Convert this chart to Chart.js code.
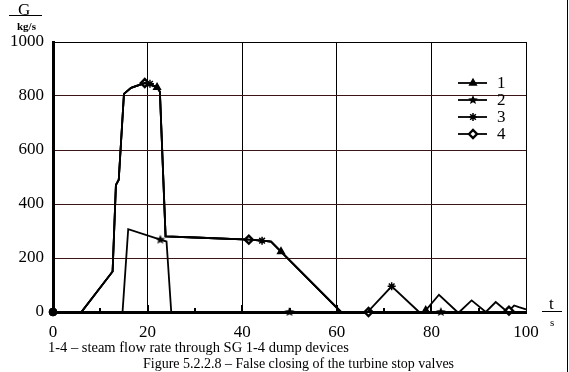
<!DOCTYPE html>
<html>
<head>
<meta charset="utf-8">
<script src="https://cdn.jsdelivr.net/npm/chart.js@4.4.1/dist/chart.umd.min.js"></script>
<style>
  html, body { margin: 0; padding: 0; background: #fff; }
  #wrap { position: relative; width: 569px; height: 372px; font-family: "Liberation Serif", "DejaVu Serif", serif; color: #000; }
  #wrap canvas { position: absolute; left: 0; top: 0; }
  .txt { position: absolute; white-space: nowrap; line-height: 1; }
  .rule { position: absolute; height: 1px; background: #000; }
  #edge { position: absolute; left: 567px; top: 0; width: 1px; height: 372px; background: #000; }
</style>
</head>
<body>
<div id="wrap">
  <canvas id="c" width="569" height="372"></canvas>
  <div class="txt" style="left:18px;top:1px;font-size:17px;">G</div>
  <div class="rule" style="left:9px;top:15px;width:33px;"></div>
  <div class="txt" style="left:17px;top:21px;font-size:11px;font-weight:bold;">kg/s</div>
  <div class="txt" style="left:549px;top:295px;font-size:17px;">t</div>
  <div class="rule" style="left:542px;top:311px;width:20px;"></div>
  <div class="txt" style="left:550px;top:317px;font-size:11px;">s</div>
  <div class="txt" style="left:48px;top:340px;font-size:14.5px;">1-4 – steam flow rate through SG 1-4 dump devices</div>
  <div class="txt" style="left:143px;top:357px;font-size:14px;">Figure 5.2.2.8 – False closing of the turbine stop valves</div>
  <div id="edge"></div>
</div>
<script>
// shared part of curves 1, 3, 4 (t in s, G in kg/s)
const mainT = [0, 6, 12.6, 13.3, 13.9, 15.0, 16.5, 19.4, 20.5, 22.0, 22.6, 23.8, 30, 41.4, 44.2, 46.1, 48.2, 60.9];
const mainG = [0, 0, 150, 470, 490, 808, 830, 848, 845, 832, 816, 280, 276, 268, 264, 261, 224, 0];

const tail1T = [78.5, 78.8, 81.6, 85.5, 85.9, 88.5, 91.5, 93.6, 96.1, 100];
const tail1G = [0, 6, 64, 0, 0, 43, 0, 37, 0, 0];
const tail3T = [66.5, 71.6, 77.4, 100];
const tail3G = [0, 95, 0, 0];
const tail4T = [66.7, 96.1, 96.4, 97.5, 98.5, 100];
const tail4G = [0, 0, 5, 24, 18, 10];

const s2T = [0, 14.7, 15.9, 22.7, 24.0, 25.0, 50, 82, 100];
const s2G = [0, 0, 307, 268, 261, 0, 0, 0, 0];

// times where each curve carries a marker
const marks1 = [22.0, 48.2, 78.8];
const marks2 = [22.7, 50, 82];
const marks3 = [20.5, 44.2, 71.6];
const marks4 = [19.4, 41.4, 66.7, 96.4];

const labels = ['1', '2', '3', '4'];
const xTicks = [0, 20, 40, 60, 80, 100];
const yTicks = [0, 200, 400, 600, 800, 1000];

const pts = (t, g) => t.map((v, i) => ({ x: v, y: g[i] }));

function starImage(r) {
  const c = document.createElement('canvas');
  c.width = c.height = r * 2 + 2;
  const g = c.getContext('2d');
  g.translate(r + 1, r + 1);
  g.beginPath();
  for (let i = 0; i < 10; i++) {
    const a = -Math.PI / 2 + i * Math.PI / 5;
    const rr = i % 2 ? r * 0.45 : r;
    g.lineTo(Math.cos(a) * rr, Math.sin(a) * rr);
  }
  g.closePath();
  g.fillStyle = '#000';
  g.fill();
  return c;
}
const star5 = starImage(5);

function series(label, data, marks, style, fill, bw) {
  return {
    label,
    data,
    borderColor: '#000',
    borderWidth: 1.8,
    tension: 0,
    clip: false,
    pointStyle: style,
    pointBackgroundColor: fill,
    pointBorderColor: '#000',
    pointBorderWidth: bw,
    pointRadius: c => marks.includes(c.raw.x) ? 4 : 0,
    pointHoverRadius: 0,
  };
}

const datasets = [
  // origin dot, drawn on top
  { label: '', data: [{ x: 0, y: 0 }], pointStyle: 'circle', pointRadius: 4, pointBackgroundColor: '#000', pointBorderColor: '#000', showLine: false, clip: false },
  series(labels[0], pts(mainT.concat(tail1T), mainG.concat(tail1G)), marks1, 'triangle', '#000', 1.3),
  series(labels[1], pts(s2T, s2G), marks2, star5, '#000', 1.3),
  series(labels[2], pts(mainT.concat(tail3T), mainG.concat(tail3G)), marks3, 'star', '#000', 1.5),
  series(labels[3], pts(mainT.concat(tail4T), mainG.concat(tail4G)), marks4, 'rectRot', '#fff', 2.4),
];

const innerTicks = {
  id: 'innerTicks',
  afterDatasetsDraw(chart) {
    const { ctx, chartArea, scales: { x } } = chart;
    ctx.save();
    ctx.strokeStyle = '#000';
    ctx.lineWidth = 2;
    for (let v = 10; v < 100; v += 10) {
      const px = Math.round(x.getPixelForValue(v));
      const len = v % 20 === 0 ? 7 : 4;
      ctx.beginPath();
      ctx.moveTo(px, chartArea.bottom);
      ctx.lineTo(px, chartArea.bottom - len);
      ctx.stroke();
    }
    ctx.restore();
  },
};

const lineLegend = {
  id: 'lineLegend',
  afterDraw(chart) {
    const { ctx } = chart;
    ctx.save();
    ctx.font = '17px "Liberation Serif"';
    ctx.textBaseline = 'middle';
    chart.data.datasets.slice(1).forEach((ds, i) => {
      const y = 83 + i * 17;
      ctx.strokeStyle = '#000';
      ctx.lineWidth = 1.8;
      ctx.beginPath();
      ctx.moveTo(458, y);
      ctx.lineTo(487, y);
      ctx.stroke();
      ctx.fillStyle = ds.pointBackgroundColor;
      ctx.strokeStyle = '#000';
      ctx.lineWidth = ds.pointBorderWidth;
      Chart.helpers.drawPoint(ctx, { pointStyle: ds.pointStyle, radius: 4, rotation: 0, borderWidth: ds.pointBorderWidth }, 473, y);
      ctx.fillStyle = '#000';
      ctx.fillText(ds.label, 497, y + 1);
    });
    ctx.restore();
  },
};

new Chart(document.getElementById('c'), {
  type: 'line',
  data: { datasets },
  options: {
    responsive: false,
    animation: false,
    events: [],
    layout: { padding: { top: 42, right: 43, left: 0, bottom: 0 } },
    plugins: { legend: { display: false }, tooltip: { enabled: false } },
    scales: {
      x: {
        type: 'linear',
        min: 0,
        max: 100,
        afterBuildTicks: s => { s.ticks = xTicks.map(v => ({ value: v })); },
        afterFit: s => { s.height = 60; },
        ticks: { color: '#000', font: { family: 'Liberation Serif', size: 17 }, padding: 10, maxRotation: 0, callback: v => String(v) },
        grid: { color: '#000', lineWidth: 1, drawTicks: false },
        border: { color: '#000', width: 3 },
      },
      y: {
        min: 0,
        max: 1000,
        afterBuildTicks: s => { s.ticks = yTicks.map(v => ({ value: v })); },
        afterFit: s => { s.width = 53; },
        ticks: { color: '#000', font: { family: 'Liberation Serif', size: 17 }, padding: 9, callback: v => String(v) },
        grid: { color: c => c.tick.value === 1000 ? '#000' : '#3b1515', lineWidth: 1, drawTicks: false },
        border: { color: '#000', width: 3 },
      },
    },
  },
  plugins: [innerTicks, lineLegend],
});
</script>
</body>
</html>
